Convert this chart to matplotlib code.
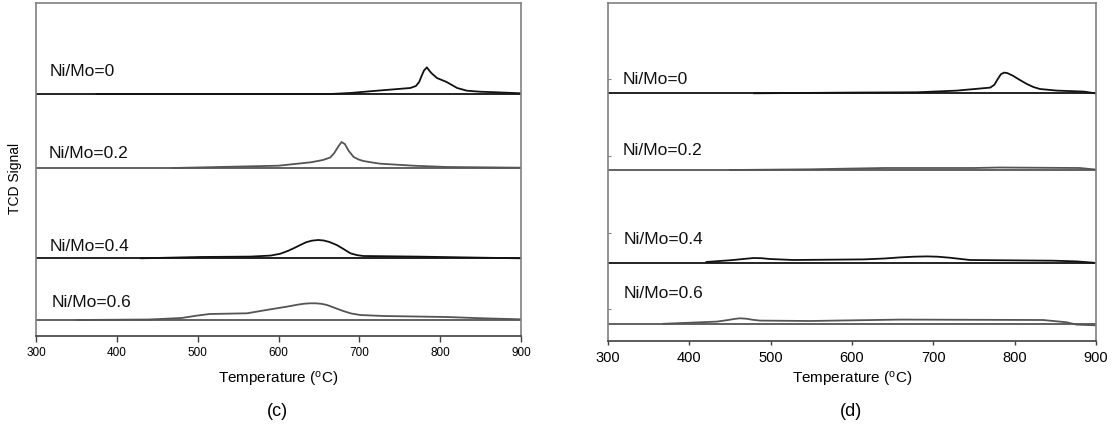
import matplotlib
matplotlib.use("Agg")
import matplotlib.pyplot as plt

plt.rcParams["font.family"] = ["Liberation Sans", "DejaVu Sans"]

# sample labels, top to bottom
labels = ["Ni/Mo=0", "Ni/Mo=0.2", "Ni/Mo=0.4", "Ni/Mo=0.6"]

# panel (c): baseline offsets and traces (signal above baseline, arbitrary units)
c_offsets = [242, 168, 77.7, 16]
c_temp = [
    [375, 664, 689, 713, 763, 770, 774, 777, 780, 783.5, 786, 789, 796, 808,
     821, 833, 849, 870, 899],
    [470, 600, 640, 655, 664, 669, 674, 678, 682, 687, 693, 699, 705, 716,
     726, 767, 808, 899],
    [430, 503, 565, 590, 602, 612, 620, 627, 634, 641, 649, 656, 663, 672,
     680, 689, 697, 705, 771, 845, 899],
    [350, 440, 480, 500, 515, 561, 585, 610, 625, 632, 639, 646, 653, 660,
     670, 680, 690, 701, 730, 808, 853, 899],
]
c_signal = [
    [0, 0, 1, 2.7, 6, 8, 12, 18, 23.5, 26.6, 24, 21, 16, 12, 6, 3.3, 2.3, 1.7, 0.7],
    [0, 2.3, 5.7, 8, 10.5, 15, 21.5, 26, 24, 17, 11, 8.5, 7, 5.5, 4.3, 2.3, 1, 0.3],
    [0, 1.3, 1.7, 2.7, 4.5, 7.5, 10.5, 13.3, 16, 17.6, 18.3, 17.8, 16.3, 13.3,
     9.5, 5, 3.2, 2.3, 1.7, 0.7, 0],
    [0, 0.5, 2, 4.5, 6, 6.7, 10, 13.3, 15.5, 16.3, 16.7, 16.7, 16.2, 15, 12,
     9, 6.5, 5, 4, 3, 1.7, 0.7],
]
c_label_xy = [(316.5, 264), (315, 182.7), (316.8, 89.3), (319, 33.3)]

# panel (d)
d_offsets = [247.7, 171, 78.3, 16.7]
d_temp = [
    [480, 598, 680, 729, 770, 775, 779, 783, 787, 791, 798, 806, 815, 823,
     831, 852, 885, 899],
    [450, 550, 590, 640, 750, 780, 880, 899],
    [421, 454, 470, 479, 489, 499, 528, 614, 640, 659, 676, 692, 705, 720,
     745, 848, 876, 897],
    [368, 434, 447, 455, 462, 470, 478, 487, 548, 659, 835, 864, 876, 899],
]
d_signal = [
    [0, 0.7, 1, 2.7, 5.7, 8.5, 14, 19, 20.7, 20.2, 17.5, 13.5, 9.3, 6.3,
     4.3, 2.7, 1.7, 0],
    [0, 0.7, 1.3, 2, 2, 2.5, 2, 0.5],
    [0.7, 2.7, 4, 4.7, 4.5, 3.7, 2.7, 3.3, 4.2, 5.3, 6, 6.3, 6, 5, 2.7, 2, 1.3, 0],
    [0.5, 2.7, 4.2, 5.3, 6, 5.6, 4.5, 3.7, 3.3, 4.7, 4.3, 2, -0.3, -1],
]
d_label_xy = [(317.5, 261), (318, 190.3), (319.7, 101.7), (318.8, 47.7)]
d_yticks = [262, 185, 108, 32]

colors = ["#111111", "#555555", "#111111", "#555555"]

W, H = 1117, 428
fig = plt.figure(figsize=(W / 100, H / 100), dpi=100)
ax_c = fig.add_axes([36 / W, (H - 336) / H, 485 / W, 333 / H])
ax_d = fig.add_axes([608 / W, (H - 341) / H, 488 / W, 338 / H])


def draw_panel(ax, offsets, temps, signals, label_xy, ymax, tick_size):
    for off, t, s, col, lab, (lx, ly) in zip(offsets, temps, signals, colors, labels, label_xy):
        ax.plot([300, 900], [off, off], color=col, lw=1.3)
        ax.plot(t, [off + v for v in s], color=col, lw=1.3)
        ax.text(lx, ly, lab, fontsize=12.5, va="center", ha="left", color="#111111")
    ax.set_xlim(300, 900)
    ax.set_ylim(0, ymax)
    ax.set_xticks(range(300, 901, 100))
    for sp in ax.spines.values():
        sp.set_color("#808080")
        sp.set_linewidth(1.2)
    ax.spines["bottom"].set_color("#404040")
    ax.tick_params(axis="x", direction="out", length=4, width=1, color="#404040",
                   labelsize=tick_size, pad=4)
    ax.set_xlabel("Temperature ($\\mathregular{^{o}}$C)", fontsize=11, labelpad=8)


draw_panel(ax_c, c_offsets, c_temp, c_signal, c_label_xy, 333, 8.5)
ax_c.set_yticks([])

draw_panel(ax_d, d_offsets, d_temp, d_signal, d_label_xy, 338, 10.5)
ax_d.set_yticks(d_yticks)
ax_d.tick_params(axis="y", direction="in", length=2, color="#808080", labelleft=False)
ax_d.tick_params(axis="x", length=3)
ax_d.xaxis.labelpad = 4

fig.text(15 / W, 1 - 178 / H, "TCD Signal", rotation=90, fontsize=10,
         ha="center", va="center")
fig.text(277 / W, 1 - 411 / H, "(c)", fontsize=13, ha="center", va="center")
fig.text(851 / W, 1 - 411 / H, "(d)", fontsize=13, ha="center", va="center")

fig.savefig("out.png", dpi=100)
